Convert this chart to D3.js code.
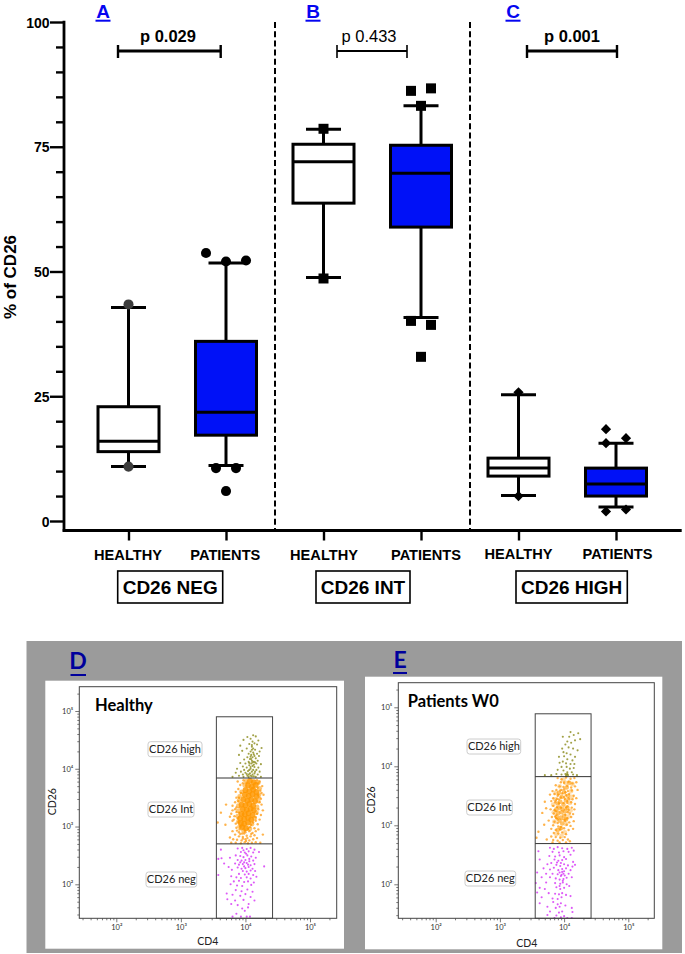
<!DOCTYPE html>
<html><head><meta charset="utf-8">
<script src="https://cdn.jsdelivr.net/npm/d3@7/dist/d3.min.js"></script>
<style>html,body{margin:0;padding:0;background:#fff}svg{display:block}</style>
</head><body><div id="c"></div>
<script>
// ---- box plot values (% of CD26)
const categories = ["A-H","A-P","B-H","B-P","C-H","C-P"];
const groupLabels = ["HEALTHY","PATIENTS","HEALTHY","PATIENTS","HEALTHY","PATIENTS"];
const yTicksMajor = [0,25,50,75,100];
const yTicksMinor = [5,10,15,20,30,35,40,45,55,60,65,70,80,85,90,95];
const whiskerLow  = [10.9,11.1,48.8,40.8,5.1,2.8];
const q1          = [13.9,17.2,63.7,58.9,9.0,5.0];
const median      = [16.0,21.8,72.0,69.7,10.6,7.4];
const q3          = [22.9,36.0,75.5,75.3,12.6,10.6];
const whiskerHigh = [42.8,51.7,78.5,83.2,25.3,15.6];
const fills       = ["#ffffff","#0011f7","#ffffff","#0011f7","#ffffff","#0011f7"];
// outliers: [category index, side-by-side slot, value]
const outNeg  = [[0,0,43.4],[0,0,10.9],[1,-2,53.7],[1,0,52.0],[1,2,52.2],[1,-1,10.6],[1,1,10.6],[1,0,6.0]];
const outInt  = [[2,0,78.6],[2,0,48.6],[3,-1,86.2],[3,1,86.7],[3,0,83.2],[3,-1,40.1],[3,1,39.3],[3,0,32.9]];
const outHigh = [[4,0,25.8],[4,0,5.0],[5,-1,18.4],[5,1,16.6],[5,-1,15.6],[5,-1,1.9],[5,1,2.3]];
const pLabels = ["p 0.029","p 0.433","p 0.001"];
const gateNames = ["CD26 NEG","CD26 INT","CD26 HIGH"];
const panelLetters = ["A","B","C"];

// ---- flow cytometry events: [log10 CD4, log10 CD26]
const dHigh = [[4.12,4.58],[4.03,4.55],[4.16,4.56],[3.97,4.50],[4.08,4.52],[4.20,4.49],[4.11,4.47],[4.14,4.44],[4.06,4.43],[3.92,4.40],[4.18,4.42],[4.25,4.36],[4.10,4.38],[4.02,4.35],[3.95,4.31],[4.15,4.33],[4.22,4.30],[4.08,4.30],[4.12,4.28],[4.05,4.26],[4.18,4.26],[3.90,4.24],[4.09,4.24],[4.14,4.22],[4.21,4.22],[4.03,4.20],[4.11,4.20],[4.07,4.17],[4.16,4.18],[3.98,4.16],[4.10,4.14],[4.19,4.14],[4.05,4.12],[4.13,4.12],[3.92,4.10],[4.00,4.09],[4.09,4.09],[4.17,4.09],[4.24,4.08],[4.06,4.06],[4.11,4.05],[3.96,4.04],[4.14,4.03],[4.02,4.02],[4.20,4.02],[3.87,4.00],[4.08,4.00],[4.12,3.98],[3.98,3.98],[4.17,3.98],[4.04,3.96],[3.93,3.95],[4.10,3.95],[4.22,3.95],[3.85,3.93],[4.00,3.93],[4.07,3.92],[4.14,3.92],[3.96,3.90],[4.11,3.90],[4.19,3.90],[3.90,3.88],[4.03,3.88],[4.08,3.88],[4.13,3.87],[3.80,3.86],[3.97,3.86],[4.05,3.86],[4.16,3.86],[4.24,3.86],[4.10,4.33],[4.13,4.25],[4.09,4.17],[4.06,4.10],[4.13,4.07],[4.08,4.03],[4.15,4.11],[4.10,4.41],[4.12,4.35],[4.08,4.21],[4.11,4.11],[4.06,3.98],[4.15,3.95],[4.02,3.91],[4.10,3.87],[4.05,3.90]];
const dIntCore = [[4.07,3.79],[4.13,3.77],[4.04,3.71],[4.10,3.69],[4.16,3.72],[4.00,3.63],[4.06,3.61],[4.12,3.64],[4.17,3.60],[3.99,3.55],[4.05,3.53],[4.11,3.56],[4.17,3.52],[3.97,3.47],[4.03,3.45],[4.09,3.47],[4.15,3.44],[3.94,3.38],[4.00,3.37],[4.06,3.39],[4.12,3.36],[3.96,3.30],[4.02,3.29],[4.08,3.31],[4.13,3.28],[3.94,3.22],[3.99,3.21],[4.05,3.23],[4.11,3.20],[3.92,3.14],[3.98,3.13],[4.04,3.15],[4.09,3.12],[3.93,3.06],[3.98,3.05],[4.04,3.07],[3.95,2.99],[4.01,2.97]];
const dIntFringe = [[3.94,3.60],[3.91,3.52],[3.90,3.45],[3.89,3.36],[3.89,3.27],[3.88,3.18],[3.89,3.08],[3.91,3.00],[3.99,3.71],[4.01,3.78],[4.22,3.66],[4.21,3.55],[4.20,3.44],[4.18,3.34],[4.17,3.24],[4.14,3.14],[4.10,3.04],[4.20,3.76],[4.07,2.96],[3.97,2.93]];
const dIntOuter = [[3.70,3.38],[3.57,3.07],[3.62,3.24],[3.69,3.03],[3.76,3.17],[3.76,2.81],[4.27,2.86],[4.25,3.38],[3.88,3.78],[3.92,3.72],[3.97,3.80],[4.22,3.78],[4.18,3.80],[4.26,3.70],[3.89,3.65],[3.93,3.58],[4.23,3.62],[4.28,3.55],[4.22,3.50],[3.86,3.50],[3.84,3.42],[3.89,3.44],[3.80,3.36],[3.86,3.33],[4.22,3.42],[4.20,3.30],[4.27,3.28],[3.80,3.28],[3.86,3.25],[4.18,3.22],[3.83,3.18],[3.88,3.14],[4.16,3.16],[4.22,3.12],[3.80,3.10],[3.85,3.05],[4.12,3.07],[4.19,3.04],[3.86,2.98],[3.91,2.95],[4.07,2.99],[4.14,2.97],[3.90,2.90],[3.95,2.88],[4.00,2.90],[4.06,2.92],[4.11,2.89],[3.80,2.92],[3.84,2.86],[3.90,2.83],[3.96,2.82],[4.02,2.84],[4.08,2.83],[4.14,2.85],[3.81,2.78],[3.87,2.77],[3.94,2.76],[4.00,2.78],[4.06,2.76],[4.12,2.78],[4.18,2.80],[3.78,2.72],[3.85,2.72],[3.93,2.71],[3.99,2.73],[4.04,2.71],[4.10,2.72],[4.16,2.73],[4.23,2.72],[3.98,2.88],[4.03,2.80],[3.92,3.00],[3.99,2.93],[4.04,2.96],[4.02,3.76],[4.19,3.67],[4.20,3.55],[3.90,3.50],[3.91,3.33],[3.90,3.24],[4.16,3.10],[3.89,3.08],[4.09,3.03],[3.96,3.75],[4.20,3.75],[4.24,3.48],[3.84,3.30],[3.78,3.22],[3.82,3.12],[3.96,2.79],[4.09,2.87],[3.92,2.87],[4.01,2.75],[3.87,2.93],[4.16,2.92],[4.20,2.95],[4.24,3.20],[3.85,3.60],[4.25,3.58]];
const dNeg = [[3.88,2.62],[3.95,2.63],[4.02,2.61],[4.08,2.63],[4.14,2.60],[3.62,2.60],[3.93,2.56],[3.99,2.55],[4.05,2.57],[4.12,2.55],[4.21,2.56],[3.85,2.50],[3.92,2.49],[3.97,2.47],[4.03,2.50],[4.09,2.48],[4.16,2.46],[3.63,2.45],[3.76,2.46],[3.58,2.44],[3.88,2.42],[3.94,2.41],[4.00,2.42],[4.06,2.40],[4.12,2.41],[3.67,2.36],[3.84,2.36],[3.90,2.34],[3.96,2.35],[4.02,2.37],[4.08,2.33],[4.14,2.35],[4.29,2.31],[3.74,2.30],[3.88,2.29],[3.94,2.27],[4.00,2.28],[4.05,2.30],[4.11,2.27],[3.79,2.25],[3.96,2.23],[4.02,2.22],[4.08,2.24],[4.15,2.23],[3.58,2.16],[3.90,2.18],[3.99,2.17],[4.05,2.18],[4.12,2.16],[3.78,2.14],[3.86,2.12],[3.93,2.11],[4.02,2.12],[4.08,2.10],[4.17,2.13],[3.82,2.05],[3.90,2.06],[3.98,2.04],[4.04,2.05],[4.13,2.03],[3.77,2.00],[3.87,1.98],[3.95,1.97],[4.09,1.99],[3.85,1.90],[3.94,1.88],[4.03,1.91],[4.11,1.87],[3.71,1.84],[3.80,1.82],[3.92,1.80],[4.00,1.83],[4.08,1.78],[3.72,1.74],[3.84,1.72],[3.97,1.73],[4.14,1.72],[3.78,1.66],[3.88,1.64],[4.05,1.66],[3.95,1.58],[3.99,1.54],[4.04,1.60],[3.86,1.49],[3.80,1.44],[3.93,1.44],[4.02,1.44],[4.07,1.44],[3.98,2.38],[4.04,2.34],[3.98,2.31],[3.92,2.38],[4.06,2.44],[4.01,2.53],[3.97,2.59]];
const eHigh = [[4.10,4.58],[4.15,4.53],[4.22,4.56],[4.08,4.50],[3.98,4.50],[4.17,4.44],[4.25,4.46],[4.05,4.42],[4.11,4.40],[4.02,4.37],[3.97,4.30],[4.07,4.32],[4.14,4.30],[4.21,4.27],[3.99,4.24],[4.04,4.22],[4.10,4.20],[3.92,4.16],[4.00,4.17],[4.05,4.12],[4.13,4.10],[4.17,4.16],[3.93,4.06],[3.98,4.08],[4.03,4.05],[4.10,4.04],[4.16,4.04],[3.96,3.99],[4.04,3.99],[4.09,3.96],[4.15,3.97],[3.90,3.94],[3.99,3.93],[4.05,3.90],[4.12,3.90],[3.80,3.85],[3.88,3.87],[3.96,3.86],[4.02,3.87],[4.04,3.86],[4.06,3.85],[4.14,3.86],[4.20,3.85],[3.70,3.85],[4.03,3.84],[4.05,3.87]];
const eIntCore = [[3.94,3.40],[3.99,3.35],[3.93,3.30],[3.98,3.27],[4.02,3.24],[3.96,3.22],[3.91,3.21],[3.95,3.13],[4.00,3.16],[3.93,3.08],[3.97,3.03],[4.03,3.42],[4.06,3.50],[3.90,3.37],[3.88,3.27],[3.89,3.14],[4.03,3.10],[4.05,3.30],[3.96,3.48],[4.00,3.56],[4.04,3.64],[4.08,3.72],[3.95,2.95],[3.90,2.92],[3.92,3.55]];
const eIntFringe = [[3.86,3.44],[3.83,3.35],[3.84,3.22],[3.85,3.06],[4.09,3.38],[4.10,3.25],[4.07,3.15],[4.02,3.72],[3.99,3.77],[3.93,3.66],[4.11,3.58],[4.12,3.48],[4.01,2.88],[3.88,2.85],[3.96,2.82],[4.03,3.02],[4.13,3.70],[3.87,3.55]];
const eIntOuter = [[3.90,3.80],[3.96,3.78],[4.03,3.81],[4.10,3.79],[4.16,3.80],[3.95,3.73],[4.00,3.72],[4.07,3.74],[4.13,3.71],[4.19,3.73],[3.87,3.68],[3.93,3.66],[3.99,3.65],[4.05,3.67],[4.11,3.64],[4.17,3.66],[3.82,3.58],[3.88,3.60],[3.94,3.59],[4.00,3.61],[4.06,3.58],[4.12,3.59],[4.21,3.60],[3.78,3.52],[3.85,3.53],[3.91,3.52],[3.97,3.54],[4.03,3.51],[4.08,3.53],[4.15,3.50],[3.83,3.46],[3.89,3.45],[3.95,3.47],[4.01,3.45],[4.07,3.46],[4.13,3.44],[4.19,3.46],[3.70,3.40],[3.80,3.41],[3.86,3.39],[3.92,3.37],[4.05,3.38],[4.11,3.39],[4.17,3.36],[3.83,3.33],[3.89,3.31],[4.05,3.32],[4.12,3.30],[3.72,3.29],[3.79,3.27],[3.85,3.26],[3.95,3.30],[4.07,3.26],[4.16,3.27],[3.66,3.21],[3.84,3.20],[3.88,3.18],[4.02,3.18],[4.09,3.20],[4.14,3.19],[3.81,3.14],[3.88,3.12],[4.05,3.12],[4.11,3.14],[3.76,3.08],[3.85,3.06],[3.90,3.04],[4.01,3.07],[4.08,3.05],[4.15,3.07],[3.69,3.01],[3.83,3.00],[3.91,2.98],[4.04,3.01],[4.10,2.99],[3.80,2.94],[3.87,2.92],[3.94,2.93],[4.00,2.95],[4.07,2.92],[4.14,2.94],[3.60,2.89],[3.84,2.87],[3.91,2.86],[3.97,2.88],[4.03,2.85],[3.80,2.81],[3.87,2.80],[3.94,2.79],[4.01,2.80],[3.73,2.76],[3.83,2.75],[3.90,2.74],[3.98,2.75],[4.06,2.76],[3.82,2.71],[3.93,2.71],[4.03,2.71],[4.09,2.73],[3.57,2.79],[3.96,3.60],[3.90,3.50],[4.02,3.56],[3.87,3.42],[4.00,3.48],[3.92,3.44],[3.87,3.24],[4.06,3.22],[3.90,3.10],[3.99,3.10],[4.03,3.30],[3.86,3.15],[4.02,3.10],[3.95,2.97],[3.99,3.38],[4.05,3.41],[4.08,3.44]];
const eNeg = [[3.78,2.62],[3.84,2.60],[3.90,2.63],[3.97,2.61],[4.05,2.60],[4.12,2.62],[3.60,2.56],[3.82,2.55],[3.92,2.54],[3.99,2.56],[4.07,2.55],[4.15,2.57],[3.77,2.48],[3.86,2.47],[3.93,2.49],[4.00,2.46],[4.10,2.50],[3.62,2.42],[3.85,2.42],[3.91,2.40],[3.97,2.41],[4.03,2.43],[4.14,2.38],[3.74,2.34],[3.80,2.36],[3.88,2.33],[3.94,2.31],[4.00,2.34],[4.06,2.32],[4.13,2.30],[4.17,2.33],[3.68,2.27],[3.78,2.25],[3.84,2.28],[3.91,2.24],[3.97,2.26],[4.03,2.27],[4.10,2.24],[3.58,2.20],[3.72,2.18],[3.82,2.18],[3.90,2.17],[3.96,2.16],[3.99,2.18],[4.01,2.15],[4.07,2.18],[3.65,2.12],[3.78,2.12],[3.87,2.10],[3.93,2.08],[3.99,2.09],[4.04,2.11],[4.12,2.12],[3.56,2.02],[3.72,2.03],[3.86,2.02],[3.94,2.01],[3.98,2.03],[4.04,2.00],[3.62,1.94],[3.70,1.92],[3.88,1.95],[3.94,1.92],[4.00,1.94],[4.08,1.97],[3.58,1.86],[3.76,1.85],[3.86,1.84],[3.92,1.83],[3.97,1.85],[4.03,1.82],[3.65,1.78],[3.82,1.76],[3.90,1.75],[3.96,1.78],[4.10,1.80],[3.62,1.68],[3.83,1.70],[3.90,1.66],[3.95,1.68],[3.74,1.62],[3.87,1.60],[3.93,1.62],[4.02,1.64],[4.12,1.60],[3.78,1.54],[3.92,1.52],[3.97,1.54],[4.13,1.53],[3.74,1.48],[3.88,1.47],[3.95,1.44],[4.00,1.46],[3.85,1.43],[4.05,1.43],[4.12,1.43],[3.93,2.20],[3.97,2.21],[4.00,2.22],[3.95,2.14],[3.89,2.37],[3.95,2.36],[3.98,2.06],[3.93,1.97]];

const flowMajor = [2,3,4,5];
const flowMinorMult = [2,3,4,5,6,7,8,9];
const supers = {2:"²",3:"³",4:"⁴",5:"⁵"};

const W=685,H=954;
const svg=d3.select("#c").append("svg").attr("width",W).attr("height",H);
const SANS="'Liberation Sans',Arial,sans-serif", CAL="Lato,'Open Sans',sans-serif";
const defs=svg.append("defs");
defs.append("filter").attr("id","soft").attr("x","-5%").attr("y","-5%").attr("width","110%").attr("height","110%")
  .append("feGaussianBlur").attr("stdDeviation",0.45);

// ---- box plot
const x=d3.scalePoint().domain(categories).range([128.5,616]);
const y=d3.scaleLinear().domain([0,100]).range([521,22]);
const axisBottomY=530.5, sw=3;
const g=svg.append("g");
const labelCenters=[128,225.3,324,426,518.5,617.5];

[275,470].forEach(px=>g.append("line").attr("x1",px).attr("x2",px).attr("y1",y(100)).attr("y2",axisBottomY)
  .attr("stroke","#000").attr("stroke-width",2).attr("stroke-dasharray","6 3.2"));

const yAxisG=g.append("g").attr("transform","translate(64,0)");
yAxisG.append("g").call(d3.axisLeft(y).tickValues(yTicksMajor).tickSize(14).tickFormat(d3.format("d")))
  .call(a=>{a.select(".domain").remove();a.selectAll("line").attr("stroke","#000").attr("stroke-width",2.4);
    a.selectAll("text").attr("font-family",SANS).attr("font-weight","700").attr("font-size",14).attr("fill","#000").attr("x",-14.5).attr("dy","0.36em");});
yAxisG.append("g").call(d3.axisLeft(y).tickValues(yTicksMinor).tickSize(8).tickFormat(""))
  .call(a=>{a.select(".domain").remove();a.selectAll("line").attr("stroke","#000").attr("stroke-width",2.4);});
g.append("line").attr("x1",64).attr("x2",64).attr("y1",y(100)-1.2).attr("y2",axisBottomY+1.2).attr("stroke","#000").attr("stroke-width",2.8);
const xAxisG=g.append("g").attr("transform",`translate(0,${axisBottomY})`);
xAxisG.call(d3.axisBottom(x).tickSize(10).tickFormat(""))
  .call(a=>{a.select(".domain").remove();a.selectAll("line").attr("stroke","#000").attr("stroke-width",2.4);});
g.append("line").attr("x1",62.7).attr("x2",681.7).attr("y1",axisBottomY).attr("y2",axisBottomY).attr("stroke","#000").attr("stroke-width",2.8);

g.selectAll(".xl").data(categories).join("text").attr("class","xl")
  .attr("x",(d,i)=>labelCenters[i]).attr("y",(d,i)=>i>3?559:560).attr("text-anchor","middle")
  .attr("font-family",SANS).attr("font-weight",700).attr("font-size",14.6).attr("fill","#000")
  .text((d,i)=>groupLabels[i]);

g.append("text").attr("transform","translate(16,277) rotate(-90)").attr("text-anchor","middle")
  .attr("font-family",SANS).attr("font-weight",700).attr("font-size",17).attr("fill","#000").text("% of CD26");

const bw=61, capW=35;
categories.forEach((c,i)=>{
  const cx=x(c), b=g.append("g");
  b.append("line").attr("x1",cx).attr("x2",cx).attr("y1",y(whiskerHigh[i])).attr("y2",y(whiskerLow[i])).attr("stroke","#000").attr("stroke-width",sw);
  [whiskerHigh[i],whiskerLow[i]].forEach(v=>b.append("line").attr("x1",cx-capW/2).attr("x2",cx+capW/2).attr("y1",y(v)).attr("y2",y(v)).attr("stroke","#000").attr("stroke-width",sw));
  b.append("rect").attr("x",cx-bw/2).attr("width",bw).attr("y",y(q3[i])).attr("height",y(q1[i])-y(q3[i])).attr("fill",fills[i]).attr("stroke","#000").attr("stroke-width",sw);
  b.append("line").attr("x1",cx-bw/2).attr("x2",cx+bw/2).attr("y1",y(median[i])).attr("y2",y(median[i])).attr("stroke","#000").attr("stroke-width",sw);
});
const slot=10;
const sym=(t,s)=>d3.symbol().type(t).size(s)();
function drawOut(data,path,fill,rot){
  g.selectAll(null).data(data).join("path").attr("d",path).attr("fill",d=>fill(d))
   .attr("transform",d=>`translate(${x(categories[d[0]])+d[1]*slot},${y(d[2])}) rotate(${rot})`);
}
drawOut(outNeg,sym(d3.symbolCircle,80),d=>d[0]===0?"#3d3d3d":"#000",0);
drawOut(outInt,sym(d3.symbolSquare,100),()=>"#000",0);
drawOut(outHigh,sym(d3.symbolSquare,52),()=>"#000",45);

const brackets=[[118,220.7,168,true,2.8],[337,407,369,false,2],[527,617,572,true,2.8]];
brackets.forEach((b,i)=>{
  const k=g.append("g");
  k.append("line").attr("x1",b[0]).attr("x2",b[1]).attr("y1",51).attr("y2",51).attr("stroke","#000").attr("stroke-width",b[4]);
  [b[0],b[1]].forEach(px=>k.append("line").attr("x1",px).attr("x2",px).attr("y1",45).attr("y2",58).attr("stroke","#000").attr("stroke-width",b[4]-0.4));
  k.append("text").attr("x",b[2]).attr("y",42).attr("text-anchor","middle").attr("font-family",SANS)
   .attr("font-weight",b[3]?700:400).attr("font-size",16.5).attr("fill","#000").text(pLabels[i]);
});
[103,313,513].forEach((px,i)=>{
  g.append("text").attr("x",px).attr("y",17.5).attr("text-anchor","middle")
  .attr("font-family",SANS).attr("font-weight",700).attr("font-size",19).attr("fill","#0505f0").text(panelLetters[i]);
  g.append("line").attr("x1",px-7.5).attr("x2",px+7.5).attr("y1",20.7).attr("y2",20.7).attr("stroke","#0505f0").attr("stroke-width",2);
});
[[117.7,222.7],[316,410],[516,627.3]].forEach((r,i)=>{
  g.append("rect").attr("x",r[0]).attr("y",571).attr("width",r[1]-r[0]).attr("height",32).attr("fill","#fff").attr("stroke","#000").attr("stroke-width",1.6);
  g.append("text").attr("x",(r[0]+r[1])/2).attr("y",593.5).attr("text-anchor","middle").attr("font-family",SANS)
   .attr("font-weight",700).attr("font-size",19).attr("fill","#000").text(gateNames[i]);
});

// ---- flow panels
svg.append("rect").attr("x",26.5).attr("y",641).attr("width",655.5).attr("height",312).attr("fill","#9b9b9b");

const panels=[
 {letter:"D",lx:78,ly:669,ux:[70.5,86],uy:675,white:[45.3,680.7,344,948.7],frame:[79.3,686.7,336.7,918.3],xT:[116.3,310],yT:[884.3,711],
  gate:[3.55,4.42,4.90,3.84,2.70],title:"Healthy",tx:95,ty:711,
  chips:[["CD26 high",148,202,741.7],["CD26 Int",148,194,802],["CD26 neg",146,196.7,872]],
  yl:[52,801.7],xl:[207.7,945],high:dHigh,core:dIntCore,fringe:dIntFringe,outer:dIntOuter,neg:dNeg,coreR:2.9,coreOp:0.85,fringeOp:0.55},
 {letter:"E",lx:400,ly:667.7,ux:[393,407],uy:673,white:[365,676.7,662.3,949.3],frame:[398.3,682.7,654.3,918.3],xT:[435.7,628.3],yT:[884.3,707.3],
  gate:[3.55,4.42,4.89,3.825,2.69],title:"Patients W0",tx:407.7,ty:706.7,
  chips:[["CD26 high",467,520.7,739],["CD26 Int",466.7,512.3,800],["CD26 neg",465,515.7,871]],
  yl:[371.7,800],xl:[526.7,946.7],high:eHigh,core:eIntCore,fringe:eIntFringe,outer:eIntOuter,neg:eNeg,coreR:2.3,coreOp:0.6,fringeOp:0.35}
];
panels.forEach(p=>{
  const s=svg.append("g");
  s.append("text").attr("x",p.lx).attr("y",p.ly).attr("text-anchor","middle").attr("font-family",CAL).attr("font-weight",700)
   .attr("font-size",23).attr("fill","#00009c").text(p.letter);
  s.append("line").attr("x1",p.ux[0]).attr("x2",p.ux[1]).attr("y1",p.uy).attr("y2",p.uy).attr("stroke","#00009c").attr("stroke-width",2);
  s.append("rect").attr("x",p.white[0]).attr("y",p.white[1]).attr("width",p.white[2]-p.white[0]).attr("height",p.white[3]-p.white[1]).attr("fill","#fff");
  const [fx0,fy0,fx1,fy1]=p.frame;
  const pxPerX=(p.xT[1]-p.xT[0])/3, pxPerY=(p.yT[0]-p.yT[1])/3;
  const X=d3.scaleLog().domain([Math.pow(10,2+(fx0-p.xT[0])/pxPerX),Math.pow(10,2+(fx1-p.xT[0])/pxPerX)]).range([fx0,fx1]);
  const Y=d3.scaleLog().domain([Math.pow(10,2-(fy1-p.yT[0])/pxPerY),Math.pow(10,2+(p.yT[0]-fy0)/pxPerY)]).range([fy1,fy0]);
  const lo=[1,2,3,4,5];
  const minorVals=sc=>lo.flatMap(e=>flowMinorMult.map(m=>m*Math.pow(10,e))).filter(v=>v>sc.domain()[0]&&v<sc.domain()[1]);
  const maj=flowMajor.map(e=>Math.pow(10,e));
  const fmt=v=>"10"+supers[Math.round(Math.log10(v))];
  const style=a=>{a.select(".domain").remove();a.selectAll("line").attr("stroke","#555").attr("stroke-width",0.8);
    a.selectAll("text").attr("font-family",CAL).attr("font-size",7.5).attr("fill","#333");};
  s.append("g").attr("transform",`translate(0,${fy1})`).call(d3.axisBottom(X).tickValues(minorVals(X)).tickSize(2).tickFormat("")).call(style);
  s.append("g").attr("transform",`translate(0,${fy1})`).call(d3.axisBottom(X).tickValues(maj).tickSize(4).tickPadding(2).tickFormat(fmt)).call(style);
  s.append("g").attr("transform",`translate(${fx0},0)`).call(d3.axisLeft(Y).tickValues(minorVals(Y)).tickSize(2).tickFormat("")).call(style);
  s.append("g").attr("transform",`translate(${fx0},0)`).call(d3.axisLeft(Y).tickValues(maj).tickSize(4).tickPadding(2).tickFormat(fmt)).call(style);
  const cloud=s.append("g").attr("filter","url(#soft)");
  const dots=(data,col,r,op)=>cloud.append("g").selectAll("circle").data(data).join("circle")
    .attr("cx",d=>X(Math.pow(10,d[0]))).attr("cy",d=>Y(Math.pow(10,d[1]))).attr("r",r).attr("fill",col).attr("fill-opacity",op);
  dots(p.neg,"#d530f5",1.05,0.8);
  dots(p.outer,"#ff9a10",1.2,0.75);
  dots(p.fringe,"#ff9800",2.4,p.fringeOp);
  dots(p.core,"#ff9800",p.coreR,p.coreOp);
  dots(p.high,"#8a8a18",1.05,0.8);
  s.append("rect").attr("x",fx0).attr("y",fy0).attr("width",fx1-fx0).attr("height",fy1-fy0).attr("fill","none").attr("stroke","#444").attr("stroke-width",1);
  const [gx0,gx1,gTop,gMid,gLow]=p.gate;
  const L=v=>Math.pow(10,v);
  s.append("rect").attr("x",X(L(gx0))).attr("y",Y(L(gTop))).attr("width",X(L(gx1))-X(L(gx0))).attr("height",fy1-Y(L(gTop))).attr("fill","none").attr("stroke","#444").attr("stroke-width",1);
  [gMid,gLow].forEach(v=>s.append("line").attr("x1",X(L(gx0))).attr("x2",X(L(gx1))).attr("y1",Y(L(v))).attr("y2",Y(L(v))).attr("stroke","#333").attr("stroke-width",1));
  p.chips.forEach(c=>{
    s.append("rect").attr("x",c[1]).attr("y",c[3]).attr("width",c[2]-c[1]).attr("height",15).attr("rx",2.5).attr("fill","#fff").attr("stroke","#ccc").attr("stroke-width",1);
    s.append("text").attr("x",(c[1]+c[2])/2).attr("y",c[3]+11.3).attr("text-anchor","middle").attr("font-family",CAL).attr("font-size",11).attr("fill","#222").text(c[0]);
  });
  s.append("text").attr("x",p.tx).attr("y",p.ty).attr("font-family",CAL).attr("font-weight",700).attr("font-size",16.5).attr("fill","#000").text(p.title);
  s.append("text").attr("transform",`translate(${p.yl[0]+3.5},${p.yl[1]}) rotate(-90)`).attr("text-anchor","middle").attr("font-family",CAL).attr("font-size",10.5).attr("fill","#222").text("CD26");
  s.append("text").attr("x",p.xl[0]).attr("y",p.xl[1]).attr("text-anchor","middle").attr("font-family",CAL).attr("font-size",10.5).attr("fill","#222").text("CD4");
});
</script></body></html>
